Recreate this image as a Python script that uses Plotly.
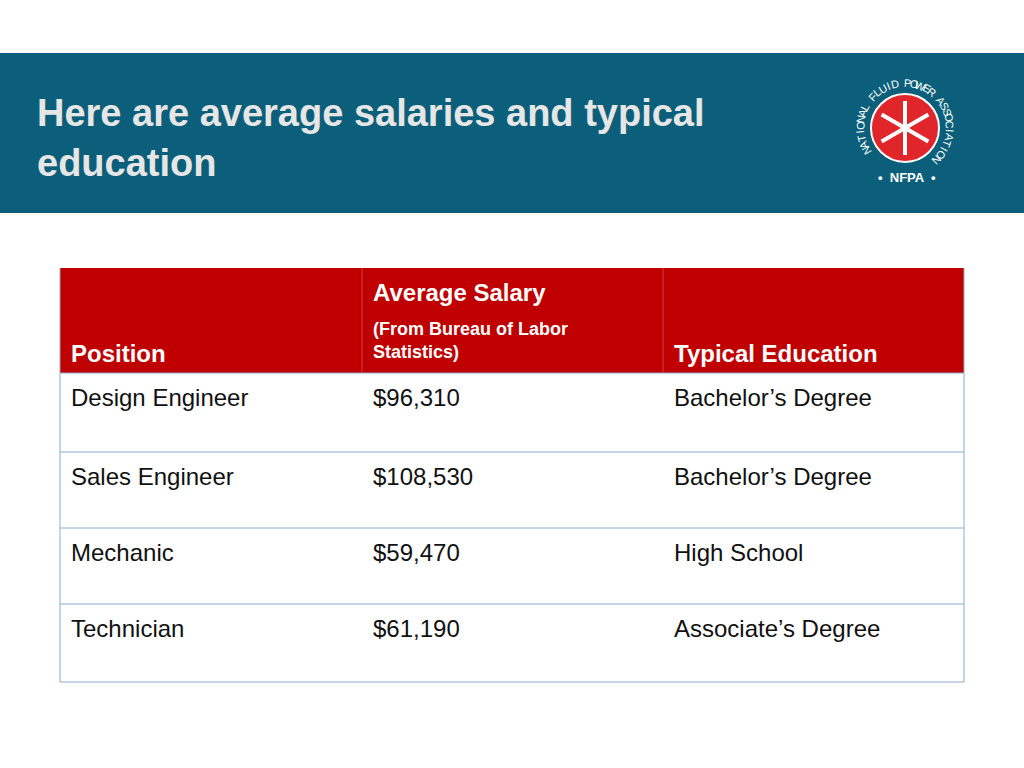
import math
import plotly.graph_objects as go

title_lines = ["Here are average salaries and typical", "education"]
headers = ["Position", "Average Salary", "Typical Education"]
header_sub = "(From Bureau of Labor<br>Statistics)"
positions = ["Design Engineer", "Sales Engineer", "Mechanic", "Technician"]
salaries = ["$96,310", "$108,530", "$59,470", "$61,190"]
education = ["Bachelor’s Degree", "Bachelor’s Degree", "High School", "Associate’s Degree"]
logo_ring = "NATIONAL FLUID POWER ASSOCIATION"

col_x = [60, 362, 663, 964]
row_y = [268, 373, 452, 528, 604, 682]

BLUE = "#0b5f7a"
RED = "#c00000"
BORDER = "#8eaacb"
FONT = "Liberation Sans, Arial"

shapes = []
ann = []
shapes.append(dict(type="rect", x0=0, x1=1024, y0=53, y1=213, fillcolor=BLUE, line_width=0, layer="below"))
for i, t in enumerate(title_lines):
    ann.append(dict(x=35, y=113 + 50 * i, text=f"<b>{t}</b>", showarrow=False, xanchor="left", yanchor="middle",
                    font=dict(size=38, color="#e6e6e6", family=FONT)))
# logo
cx, cy, r = 905, 128, 34
shapes.append(dict(type="circle", x0=cx - r, x1=cx + r, y0=cy - r, y1=cy + r, fillcolor="#e0262b",
                   line=dict(color="white", width=2)))
for k in range(6):
    a = math.radians(90 + 60 * k)
    shapes.append(dict(type="line", x0=cx, y0=cy, x1=cx + 27 * math.cos(a), y1=cy - 27 * math.sin(a),
                       line=dict(color="white", width=4)))
n = len(logo_ring)
for i, ch in enumerate(logo_ring):
    ang = 210 - i * (255 / (n - 1))
    a = math.radians(ang)
    R = 45
    ann.append(dict(x=cx + R * math.cos(a), y=cy - R * math.sin(a), text=ch, showarrow=False,
                    textangle=90 - ang, font=dict(size=11, color="white", family="Liberation Sans")))
ann.append(dict(x=cx + 2, y=177, text="<b>•  NFPA  •</b>", showarrow=False, font=dict(size=13, color="white", family="Liberation Sans")))

# table
shapes.append(dict(type="rect", x0=col_x[0], x1=col_x[-1], y0=row_y[0], y1=row_y[1], fillcolor=RED, line_width=0))
for y in row_y[1:]:
    shapes.append(dict(type="line", x0=col_x[0], x1=col_x[-1], y0=y, y1=y, line=dict(color=BORDER, width=1)))
for x in (col_x[0], col_x[-1]):
    shapes.append(dict(type="line", x0=x, x1=x, y0=row_y[0], y1=row_y[-1], line=dict(color=BORDER, width=1)))
for x in col_x[1:-1]:
    shapes.append(dict(type="line", x0=x, x1=x, y0=row_y[0], y1=row_y[1], line=dict(color="#d04040", width=1)))

hf = dict(size=24, color="white", family=FONT)
ann.append(dict(x=col_x[0] + 9, y=353, text=f"<b>{headers[0]}</b>", showarrow=False, xanchor="left", font=hf))
ann.append(dict(x=col_x[1] + 9, y=292, text=f"<b>{headers[1]}</b>", showarrow=False, xanchor="left", font=hf))
ann.append(dict(x=col_x[1] + 9, y=340, text=f"<b>{header_sub}</b>", showarrow=False, xanchor="left", align="left",
                font=dict(size=18, color="white", family=FONT)))
ann.append(dict(x=col_x[2] + 9, y=353, text=f"<b>{headers[2]}</b>", showarrow=False, xanchor="left", font=hf))

bf = dict(size=24, color="#111111", family=FONT)
for i in range(len(positions)):
    y = row_y[i + 1] + 24
    for j, v in enumerate([positions[i], salaries[i], education[i]]):
        ann.append(dict(x=col_x[j] + 9, y=y, text=v, showarrow=False, xanchor="left", font=bf))

fig = go.Figure()
fig.update_layout(width=1024, height=768, margin=dict(l=0, r=0, t=0, b=0), plot_bgcolor="white", paper_bgcolor="white",
                  xaxis=dict(range=[0, 1024], visible=False, fixedrange=True),
                  yaxis=dict(range=[768, 0], visible=False, fixedrange=True),
                  shapes=shapes, annotations=ann, showlegend=False)
fig.write_html("out.html", post_script="document.body.style.margin='0';document.body.style.overflow='hidden';",
               config={"displayModeBar": False})
